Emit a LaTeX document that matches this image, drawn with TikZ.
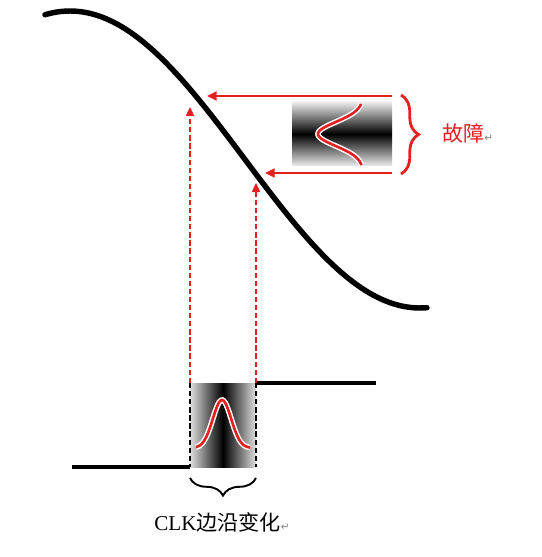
\documentclass[tikz,border=0pt]{standalone}
\usepackage{fontspec}
\setmainfont{Liberation Serif}
\newfontfamily\cjkfont{Noto Sans CJK SC}
\newfontfamily\symfont{DejaVu Sans}
\usetikzlibrary{arrows.meta,decorations.pathreplacing}
\definecolor{fault_red}{RGB}{228,32,32}
\newcommand{\retmark}{{\symfont\color{gray}\fontsize{6}{6}\selectfont ↵}}

\begin{document}
\begin{tikzpicture}[x=0.02cm,y=-0.02cm,
      curve/.style={
         line width=3.1pt,
         line cap=round},
      level/.style={
         line width=1.8pt},
      arrow_red/.style={
         -{Triangle[length=5.5pt,width=5pt]},
         draw=fault_red,
         line width=1.6pt},
      arrow_dashed/.style={
         -{Triangle[length=5pt,width=4.5pt]},
         draw=fault_red,
         line width=1.1pt,
         dash pattern=on 3pt off 1.6pt},
      edge_dashed/.style={
         draw=black,
         line width=1pt,
         dash pattern=on 3pt off 1.6pt},
      gauss/.style={
         draw=fault_red,
         line width=1.5pt},
      halo/.style={
         draw=white,
         line width=3.2pt},
      brace_red/.style={
         decorate,
         decoration={brace,amplitude=10pt},
         draw=fault_red,
         line width=1.6pt},
      brace_black/.style={
         decorate,
         decoration={brace,amplitude=10pt},
         draw=black,
         line width=1.1pt},
      label/.style={
         font=\fontsize{12}{14}\selectfont,
         inner sep=1pt},
      ]
      \useasboundingbox (0,0) rectangle (541,557);

      % transfer curve
      \draw[curve] plot[domain=-12.9:183.6,samples=90,smooth]
         ({70+1.9444*\x},{11+148.5*(1-cos(\x))});

      % fault box
      \shade[top color=gray!15,bottom color=gray!15,middle color=black]
         (292,102) rectangle (392,166);
      \draw[halo] plot[domain=104:165,samples=40,smooth]
         ({363-45*exp(-((\x-134)/17)^2)},\x);
      \draw[gauss] plot[domain=104:165,samples=40,smooth]
         ({363-45*exp(-((\x-134)/17)^2)},\x);

      % clk edge box
      \shade[left color=gray!25,right color=gray!25,middle color=black]
         (190,383) rectangle (256,467);
      \draw[halo] plot[domain=196:250,samples=40,smooth]
         (\x,{448-48*exp(-((\x-222)/13)^2)});
      \draw[gauss] plot[domain=196:250,samples=40,smooth]
         (\x,{448-48*exp(-((\x-222)/13)^2)});

      \coordinate (u_start) at (392,96);
      \coordinate (u_end) at (207,96);
      \coordinate (l_start) at (392,173);
      \coordinate (l_end) at (265,173);
      \coordinate (b_left) at (190,383);
      \coordinate (t_left) at (190,107);
      \coordinate (b_right) at (256,383);
      \coordinate (t_right) at (256,183);
      \coordinate (g_left) at (190,467);
      \coordinate (g_right) at (256,467);
      \coordinate (low_start) at (72,467);
      \coordinate (high_end) at (376,383);

      % step
      \draw[level] (low_start) -- (g_left);
      \draw[level] (b_right) -- (high_end);
      \foreach \i/\j in {b_left/g_left, b_right/g_right}
         \draw[edge_dashed] (\i) -- (\j);

      \foreach \i/\j in {u_start/u_end, l_start/l_end}
         \draw[arrow_red] (\i) -- (\j);
      \foreach \i/\j in {b_left/t_left, b_right/t_right}
         \draw[arrow_dashed] (\i) -- (\j);

      % braces
      \draw[brace_red] (401,95) -- (401,174);
      \draw[brace_black] (256,478) -- (190,478);

      \node[label,text=fault_red,anchor=west] (fault) at (440,133)
         {\cjkfont 故障\retmark};
      \node[label] (clk) at (222,522)
         {CLK{\cjkfont 边沿变化}\retmark};
\end{tikzpicture}
\end{document}
